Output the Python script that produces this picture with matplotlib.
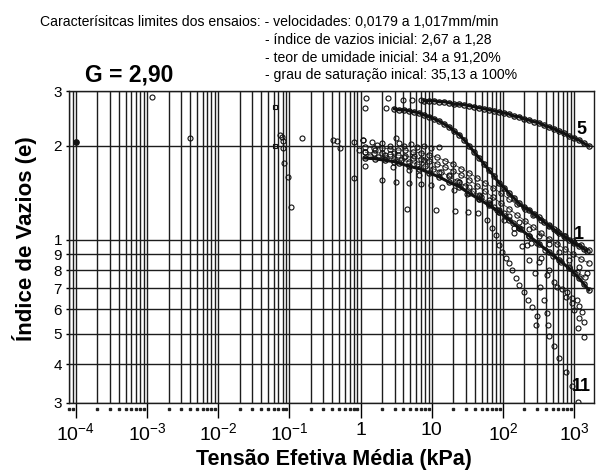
import matplotlib
matplotlib.use("Agg")
import matplotlib.pyplot as plt
from matplotlib.ticker import FixedLocator, NullFormatter, LogLocator
import matplotlib.transforms as mtransforms

plt.rcParams['font.family'] = ['Liberation Sans', 'DejaVu Sans']
plt.rcParams['mathtext.fontset'] = 'custom'
plt.rcParams['mathtext.rm'] = 'Liberation Sans'
plt.rcParams['mathtext.it'] = 'Liberation Sans'

# ---------------- data ----------------
# curve labelled "5"
c5_x = [7.88, 9.25, 10.9, 12.8, 15.0, 17.6, 20.7, 24.4, 28.6, 33.6, 39.5, 46.4, 54.5, 64.1, 75.3, 88.4,
        104, 122, 144, 169, 198, 233, 273, 321, 378, 444, 521, 612, 719, 845, 993, 1167, 1371, 1611]
c5_e = [2.79, 2.79, 2.79, 2.77, 2.77, 2.75, 2.72, 2.72, 2.71, 2.69, 2.67, 2.65, 2.63, 2.61, 2.59, 2.57,
        2.55, 2.53, 2.49, 2.48, 2.44, 2.42, 2.39, 2.37, 2.33, 2.30, 2.27, 2.23, 2.20, 2.15, 2.12, 2.09, 2.04, 2.00]

# curve labelled "1"
c1_x = [2.99, 3.52, 4.13, 4.86, 5.71, 6.70, 7.88, 9.25, 10.9, 12.8, 15.0, 17.6, 20.7, 24.4, 28.6, 33.6,
        39.5, 46.4, 54.5, 64.1, 75.3, 88.4, 104, 122, 144, 169, 198, 233, 273, 321, 378, 444, 521, 612,
        719, 845, 993, 1167, 1371, 1512]
c1_e = [2.63, 2.61, 2.61, 2.59, 2.57, 2.55, 2.51, 2.48, 2.44, 2.40, 2.35, 2.30, 2.23, 2.17, 2.09, 2.00,
        1.91, 1.83, 1.75, 1.67, 1.60, 1.52, 1.47, 1.41, 1.36, 1.31, 1.27, 1.25, 1.21, 1.18, 1.14, 1.11,
        1.08, 1.05, 1.03, 1.00, 0.977, 0.956, 0.935, 0.921]

# lower dense curve
c3_x = [1.14, 1.57, 2.17, 2.99, 3.52, 4.86, 6.70, 9.25, 12.8, 17.6, 24.4, 33.6, 46.4, 64.1, 88.4, 122,
        169, 233, 321, 444, 612, 845, 993, 1167, 1371, 1611]
c3_e = [1.83, 1.82, 1.80, 1.78, 1.76, 1.72, 1.69, 1.64, 1.59, 1.53, 1.48, 1.41, 1.35, 1.29, 1.23, 1.16,
        1.09, 1.03, 0.970, 0.914, 0.862, 0.812, 0.783, 0.755, 0.722, 0.691]

# curves inside the dense band
ca_x = [1.17, 1.52, 1.97, 2.55, 3.30, 4.27, 5.53, 7.15, 9.25, 12.0, 15.5, 20.1, 26.0, 33.6, 43.5, 56.3,
        72.9, 94.4, 122, 158, 205, 265, 343, 444, 574, 743, 962, 1245, 1611]
ca_e = [1.99, 1.97, 1.97, 1.96, 1.94, 1.94, 1.91, 1.90, 1.87, 1.84, 1.79, 1.75, 1.69, 1.64, 1.58, 1.52,
        1.47, 1.41, 1.35, 1.30, 1.26, 1.20, 1.16, 1.12, 1.07, 1.03, 0.995, 0.963, 0.929]
cb_x = [1.17, 1.52, 1.97, 2.55, 3.30, 4.27, 5.53, 7.15, 9.25, 12.0, 15.5, 20.1, 26.0, 33.6, 43.5, 56.3,
        72.9, 94.4, 122, 158, 205, 265, 343, 444, 574, 743, 962, 1245, 1611]
cb_e = [1.91, 1.90, 1.90, 1.88, 1.87, 1.86, 1.83, 1.82, 1.79, 1.75, 1.71, 1.66, 1.61, 1.56, 1.49, 1.43,
        1.37, 1.31, 1.26, 1.20, 1.15, 1.10, 1.05, 1.01, 0.970, 0.935, 0.901, 0.868, 0.843]
cc_x = [1.34, 1.73, 2.24, 2.90, 3.75, 4.86, 6.29, 8.13, 10.5, 13.6, 17.6, 22.8, 29.6, 38.3, 49.5, 64.1,
        83.0, 107, 139, 180, 233, 301, 390, 505, 653, 845, 1094, 1416]
cc_e = [1.86, 1.84, 1.83, 1.82, 1.80, 1.78, 1.75, 1.72, 1.69, 1.65, 1.60, 1.54, 1.49, 1.43, 1.37, 1.31,
        1.25, 1.19, 1.13, 1.08, 1.03, 0.977, 0.929, 0.888, 0.849, 0.818, 0.789, 0.760]

sq_x = [2.03, 3.19, 4.86, 7.15, 9.87, 14.1, 20.7, 31.5, 46.4, 64.1, 88.4, 122, 169, 233, 321, 444, 612,
        845, 1167, 1512]
sq_e = [1.56, 1.53, 1.52, 1.51, 1.50, 1.48, 1.45, 1.40, 1.35, 1.30, 1.25, 1.19, 1.14, 1.08, 1.03, 0.970,
        0.914, 0.862, 0.818, 0.783]

b4_x = [4.55, 11.6, 21.4, 32.6, 45.0, 60.1, 70.6, 80.3, 88.4, 97.5, 111, 122, 135, 153, 169, 198, 225,
        257, 301, 292]
b4_e = [1.26, 1.25, 1.24, 1.23, 1.22, 1.16, 1.09, 1.04, 0.963, 0.914, 0.875, 0.843, 0.801, 0.755, 0.717,
        0.681, 0.642, 0.609, 0.570, 0.534]

c11_x = [12.8, 24.4, 46.4, 75.3, 104, 144, 186, 233, 283, 332, 378, 416, 430, 444, 521, 612, 767, 931, 1130]
c11_e = [1.65, 1.53, 1.39, 1.27, 1.16, 1.05, 0.956, 0.862, 0.783, 0.706, 0.642, 0.583, 0.534, 0.492,
         0.457, 0.418, 0.377, 0.340, 0.302]

b6_x = [17.6, 33.6, 64.1, 104, 169, 248, 343, 444, 521, 675, 793, 931, 1094, 1167, 1286, 1371]
b6_e = [1.61, 1.48, 1.34, 1.22, 1.09, 0.977, 0.875, 0.801, 0.733, 0.696, 0.681, 0.651, 0.642, 0.614,
        0.587, 0.545]
b7_x = [24.4, 46.4, 88.4, 144, 218, 321, 416, 574, 767, 931, 993, 1167, 1130, 1371]
b7_e = [1.53, 1.38, 1.23, 1.09, 0.963, 0.849, 0.772, 0.706, 0.656, 0.628, 0.596, 0.562, 0.522, 0.489]

# cluster of early readings near e = 2
cl_x = [1.07, 1.43, 1.68, 2.03, 2.55, 3.19, 3.52, 4.13, 5.18, 6.29, 7.88, 9.87, 12.8, 1.14, 1.57, 2.17,
        2.99, 4.13, 5.71, 7.88, 2.81, 4.86, 6.70, 3.88, 5.35, 7.15]
cl_e = [2.09, 2.06, 2.01, 2.04, 2.00, 2.12, 2.04, 2.00, 2.03, 1.99, 2.00, 1.97, 1.99, 1.91, 1.94, 1.87,
        1.90, 1.84, 1.86, 1.80, 1.71, 1.67, 1.61, 2.81, 2.81, 2.81]

# isolated readings at low stress
sc_x = [0.00118, 0.00403, 0.149, 0.406, 0.461, 0.508, 0.798, 0.798, 0.94, 1.07, 1.14, 1.21, 1.14, 2.39,
        2.24, 0.0734, 0.0782, 0.0807, 0.0807, 0.0834, 0.095, 0.105]
sc_e = [2.87, 2.12, 2.12, 2.09, 2.07, 1.97, 2.06, 1.58, 1.94, 2.09, 2.65, 2.85, 1.72, 2.85, 2.65, 2.17,
        2.14, 2.07, 1.97, 1.76, 1.59, 1.27]
sqr_x = [0.0624, 0.0624]
sqr_e = [2.67, 2.00]
fill_x = [1.0e-4]
fill_e = [2.06]

y_ticks = [0.3, 0.4, 0.5, 0.6, 0.7, 0.8, 0.9, 1, 2, 3]
y_ticklabels = ['3', '4', '5', '6', '7', '8', '9', '1', '2', '3']
x_ticks = [1e-4, 1e-3, 1e-2, 1e-1, 1, 10, 100, 1000]
x_ticklabels = ['$10^{-4}$', '$10^{-3}$', '$10^{-2}$', '$10^{-1}$', '1', '10', '$10^{2}$', '$10^{3}$']

curve_labels = [('5', 1286, 2.25), ('1', 1167, 1.04), ('11', 1286, 0.34)]

# ---------------- figure ----------------
W, H = 605, 471
fig = plt.figure(figsize=(W / 100, H / 100), dpi=100)
ax = fig.add_axes([69 / W, 1 - 403 / H, (594 - 69) / W, (403 - 91) / H])
ax.set_xscale('log')
ax.set_yscale('log')
ax.set_xlim(7.98e-5, 1905)
ax.set_ylim(0.3, 3)

gkw = dict(color='#1c1c1c', lw=1.0)
ax.xaxis.set_major_locator(FixedLocator(x_ticks))
ax.xaxis.set_minor_locator(LogLocator(base=10, subs=range(2, 10)))
ax.xaxis.set_minor_formatter(NullFormatter())
ax.set_xticklabels(x_ticklabels, fontsize=14)
ax.yaxis.set_major_locator(FixedLocator(y_ticks))
ax.yaxis.set_minor_locator(FixedLocator([]))
ax.set_yticklabels(y_ticklabels, fontsize=11)
ax.grid(True, which='major', axis='both', **gkw)
ax.grid(True, which='minor', axis='x', **gkw)
ax.set_axisbelow(True)
ax.tick_params(axis='x', which='major', length=11, width=1.0, pad=3, direction='out')
ax.tick_params(axis='x', which='minor', length=0)
ax.tick_params(axis='y', which='major', length=2, width=1.0, pad=3)
for s in ax.spines.values():
    s.set_linewidth(1.0)
    s.set_color('#1c1c1c')

# minor tick dots below the axis
trans = mtransforms.blended_transform_factory(ax.transData, ax.transAxes)
minor_pos = [v for v in ax.xaxis.get_minorticklocs() if 7.98e-5 <= v <= 1905]
ax.plot(minor_pos, [-0.02] * len(minor_pos), linestyle='none', marker='s', ms=1.8,
        color='#222', transform=trans, clip_on=False)

mk = dict(linestyle='none', marker='o', ms=3.6, mfc='none', mec='#111', mew=0.8)
chain = dict(linestyle='-', lw=0.6, color='#333', marker='o', ms=3.8, mfc='none', mec='#111', mew=0.8)
thick = dict(linestyle='-', lw=2.2, color='#111', marker='o', ms=3.8, mfc='none', mec='#111', mew=0.9)

for xs, es in [(sq_x, sq_e), (b4_x, b4_e), (c11_x, c11_e), (b6_x, b6_e), (b7_x, b7_e),
               (cl_x, cl_e), (sc_x, sc_e)]:
    ax.plot(xs, es, **mk)
for xs, es in [(ca_x, ca_e), (cb_x, cb_e), (cc_x, cc_e)]:
    ax.plot(xs, es, **chain)
ax.plot(sqr_x, sqr_e, linestyle='none', marker='s', ms=3.4, mfc='none', mec='#111', mew=0.8)
ax.plot(fill_x, fill_e, linestyle='none', marker='o', ms=3.8, color='#111')
for xs, es in [(c5_x, c5_e), (c1_x, c1_e), (c3_x, c3_e)]:
    ax.plot(xs, es, **thick)

for txt, xv, ev in curve_labels:
    ax.text(xv, ev, txt, fontsize=13, fontweight='bold', ha='center', va='center')

fig.text(25 / W, 1 - 239 / H, 'Índice de Vazios (e)', fontsize=16, fontweight='bold',
         rotation=90, ha='center', va='center')
fig.text(334 / W, 1 - 459 / H, 'Tensão Efetiva Média (kPa)', fontsize=15.5, fontweight='bold',
         ha='center', va='center')

hdr = 10.1
fig.text(40 / W, 1 - 22 / H, 'Caracterísitcas limites dos ensaios: - velocidades: 0,0179 a 1,017mm/min',
         fontsize=hdr, ha='left', va='center')
fig.text(265 / W, 1 - 40 / H, '- índice de vazios inicial: 2,67 a 1,28', fontsize=hdr, ha='left', va='center')
fig.text(265 / W, 1 - 58 / H, '- teor de umidade inicial: 34 a 91,20%', fontsize=hdr, ha='left', va='center')
fig.text(265 / W, 1 - 75 / H, '- grau de saturação inical: 35,13 a 100%', fontsize=hdr, ha='left', va='center')
fig.text(129 / W, 1 - 75 / H, 'G = 2,90', fontsize=16.5, fontweight='bold', ha='center', va='center')

fig.savefig('out.png', dpi=100)
